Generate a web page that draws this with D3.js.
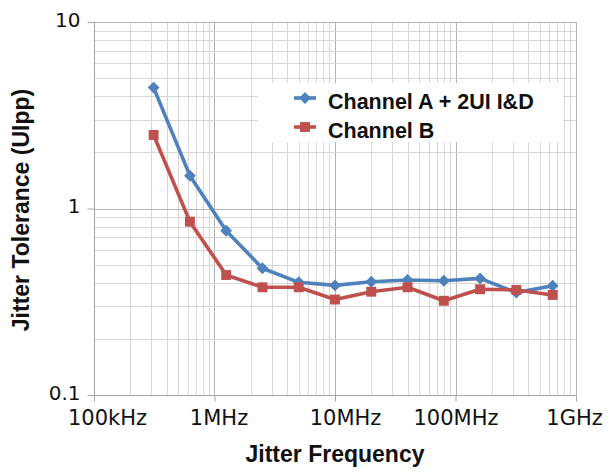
<!DOCTYPE html>
<html>
<head>
<meta charset="utf-8">
<script src="https://cdn.jsdelivr.net/npm/d3@7"></script>
<style>
  body { margin: 0; background: #fff; }
  svg { display: block; }
</style>
</head>
<body>
<svg id="chart" width="608" height="473"></svg>
<script>
// Jitter tolerance measurements (UIpp) versus jitter frequency (Hz)
const frequencies = [312.5e3, 625e3, 1.25e6, 2.5e6, 5e6, 10e6, 20e6, 40e6, 80e6, 160e6, 320e6, 640e6];
const channelA = [4.45, 1.50, 0.76, 0.478, 0.402, 0.387, 0.405, 0.414, 0.410, 0.422, 0.354, 0.385];
const channelB = [2.48, 0.85, 0.44, 0.378, 0.378, 0.325, 0.358, 0.378, 0.320, 0.369, 0.366, 0.344];
const seriesNames = ["Channel A + 2UI I&D", "Channel B"];

const xTickValues = [1e5, 1e6, 1e7, 1e8, 1e9];
const xTickLabels = ["100kHz", "1MHz", "10MHz", "100MHz", "1GHz"];
const yTickValues = [0.1, 1, 10];
const yTickLabels = ["0.1", "1", "10"];

const svg = d3.select("#chart");
const plot = { left: 94, right: 576, top: 22, bottom: 395 };

const x = d3.scaleLog().domain([1e5, 1e9]).range([plot.left, plot.right]);
const y = d3.scaleLog().domain([0.1, 10]).range([plot.bottom, plot.top]);

const isMajor = v => Math.abs(Math.log10(v) - Math.round(Math.log10(v))) < 1e-9;

// Grid: minor lines at every 2..9 multiple, darker lines at the decades
const grid = svg.append("g");
grid.selectAll("line.vx").data(x.ticks()).join("line")
  .attr("x1", d => Math.round(x(d)) + 0.5).attr("x2", d => Math.round(x(d)) + 0.5)
  .attr("y1", plot.top).attr("y2", plot.bottom)
  .attr("stroke", d => isMajor(d) ? "#b4b4b4" : "#d6d6d6")
  .attr("stroke-width", 1);
grid.selectAll("line.hy").data(y.ticks()).join("line")
  .attr("y1", d => Math.round(y(d)) + 0.5).attr("y2", d => Math.round(y(d)) + 0.5)
  .attr("x1", plot.left).attr("x2", plot.right)
  .attr("stroke", d => isMajor(d) ? "#b4b4b4" : "#d6d6d6")
  .attr("stroke-width", 1);

// Axes
const xAxis = d3.axisBottom(x)
  .tickValues(xTickValues)
  .tickFormat((d, i) => xTickLabels[i])
  .tickSize(6).tickPadding(9);
const gx = svg.append("g")
  .attr("transform", `translate(0,${plot.bottom + 0.5})`)
  .call(xAxis);
gx.select(".domain").attr("stroke", "#a6a6a6").attr("d", `M${plot.left},0H${plot.right}`);
gx.selectAll(".tick line").attr("stroke", "#a6a6a6");
const xLabelShift = [13, 4, 10, 0, -2];
gx.selectAll(".tick text")
  .attr("font-family", "'DejaVu Sans', Verdana, sans-serif")
  .attr("font-size", 21)
  .attr("fill", "#111")
  .attr("dx", (d, i) => xLabelShift[i]);

const yAxis = d3.axisLeft(y)
  .tickValues(yTickValues)
  .tickFormat((d, i) => yTickLabels[i])
  .tickSize(7).tickPadding(7);
const gy = svg.append("g")
  .attr("transform", `translate(${plot.left + 0.5},0)`)
  .call(yAxis);
gy.select(".domain").attr("stroke", "#a6a6a6").attr("d", `M0,${plot.top}V${plot.bottom}`);
gy.selectAll(".tick line").attr("stroke", "#a6a6a6");
gy.selectAll(".tick text")
  .attr("font-family", "'DejaVu Sans', Verdana, sans-serif")
  .attr("font-size", 20)
  .attr("fill", "#111")
  .attr("dy", "0.22em");

// Axis titles
svg.append("text")
  .attr("x", 335).attr("y", 462)
  .attr("text-anchor", "middle")
  .attr("font-family", "'Liberation Sans', Arial, sans-serif")
  .attr("font-weight", "bold").attr("font-size", 23)
  .attr("fill", "#111")
  .text("Jitter Frequency");
svg.append("text")
  .attr("transform", "translate(29,210) rotate(-90)")
  .attr("text-anchor", "middle")
  .attr("font-family", "'Liberation Sans', Arial, sans-serif")
  .attr("font-weight", "bold").attr("font-size", 23)
  .attr("fill", "#111")
  .text("Jitter Tolerance (UIpp)");

// Series
const colors = ["#4F81BD", "#C0504D"];
const series = [channelA, channelB].map((vals, i) => ({
  name: seriesNames[i], color: colors[i],
  points: vals.map((v, j) => ({ f: frequencies[j], v }))
}));

const line = d3.line().x(d => x(d.f)).y(d => y(d.v));
const diamond = d3.symbol().type(d3.symbolDiamond2).size(90);
const square = d3.symbol().type(d3.symbolSquare2).size(125);

function marker(g, s, idx) {
  g.append("path").attr("d", idx === 0 ? diamond() : square()).attr("fill", s.color);
}

// Legend box (drawn before the lines so the data stays on top)
svg.append("rect")
  .attr("x", 258).attr("y", 83).attr("width", 305).attr("height", 59)
  .attr("fill", "#fff");

series.forEach((s, i) => {
  const g = svg.append("g");
  g.append("path").datum(s.points)
    .attr("d", line)
    .attr("fill", "none")
    .attr("stroke", s.color)
    .attr("stroke-width", 3.6)
    .attr("stroke-linejoin", "round");
  g.selectAll("g.pt").data(s.points).join("g")
    .attr("transform", d => `translate(${x(d.f)},${y(d.v)})`)
    .each(function () { marker(d3.select(this), s, i); });
});

// Legend entries
const legendY = [98, 127];
series.forEach((s, i) => {
  const g = svg.append("g").attr("transform", `translate(305,${legendY[i]})`);
  g.append("line").attr("x1", -11).attr("x2", 11)
    .attr("stroke", s.color).attr("stroke-width", 3.6);
  marker(g, s, i);
  svg.append("text")
    .attr("x", 328).attr("y", legendY[i] + 11)
    .attr("font-family", "'Liberation Sans', Arial, sans-serif")
    .attr("font-weight", "bold").attr("font-size", 21.5)
    .attr("fill", "#111")
    .text(s.name);
});
</script>
</body>
</html>
